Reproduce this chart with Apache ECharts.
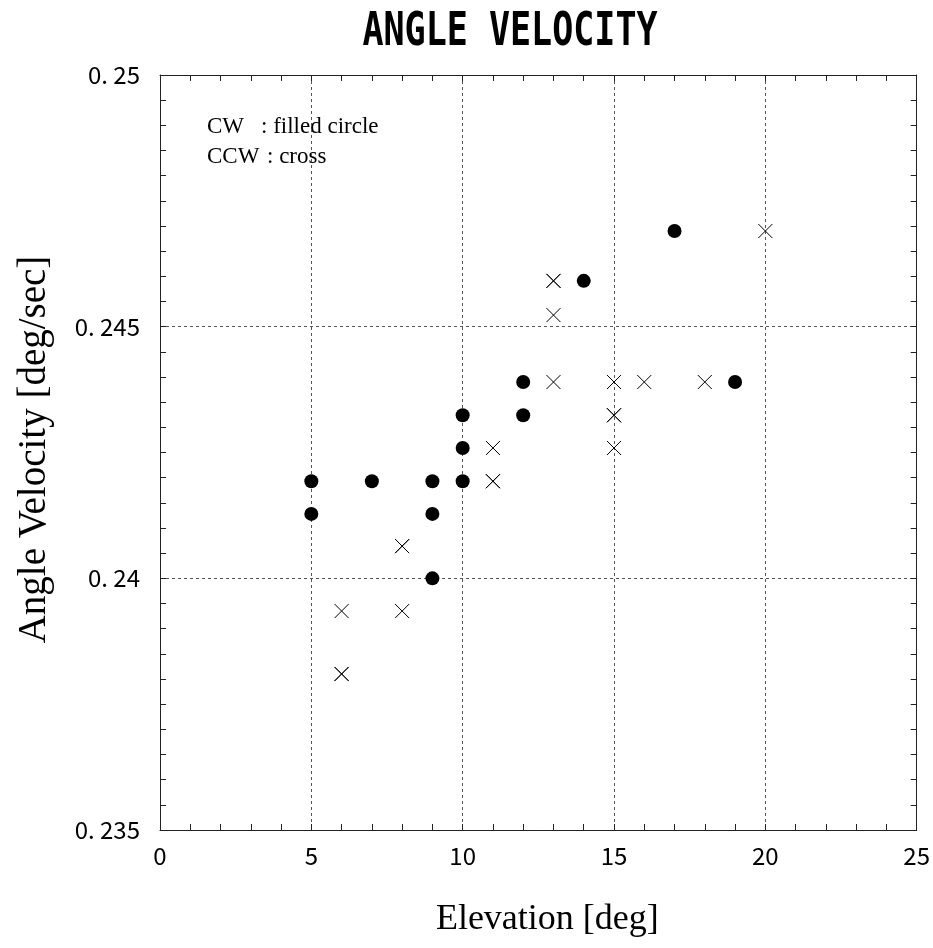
<!DOCTYPE html>
<html>
<head>
<meta charset="utf-8">
<script src="https://cdn.jsdelivr.net/npm/echarts@6/dist/echarts.min.js"></script>
<style>
  html, body { margin: 0; padding: 0; background: #fff; }
  #chart { width: 933px; height: 948px; }
</style>
</head>
<body>
<div id="chart"></div>
<script>
// CW : filled circle
var cwX = [5, 5, 7, 9, 9, 9, 10, 10, 10, 12, 12, 14, 17, 19]
var cwY = [0.24193, 0.24128, 0.24193, 0.24193, 0.24128, 0.24, 0.24324, 0.24259, 0.24193, 0.2439, 0.24324, 0.24591, 0.2469, 0.2439]
// CCW : cross (some points repeat, which is why they print darker)
var ccwX = [6, 6, 6, 8, 8, 8, 11, 11, 11, 13, 13, 13, 13, 15, 15, 15, 15, 16, 18, 20]
var ccwY = [0.23935, 0.2381, 0.2381, 0.24064, 0.24064, 0.23935, 0.24259, 0.24193, 0.24193, 0.24591, 0.24591, 0.24523, 0.2439, 0.2439, 0.24324, 0.24324, 0.24259, 0.2439, 0.2439, 0.2469]

var xTickLabels = ['0', '5', '10', '15', '20', '25']
var yTickLabels = ['0. 235', '0. 24', '0. 245', '0. 25']

function pairs(xs, ys) {
    var out = []
    for (var i = 0; i < xs.length; i++) out.push([xs[i], ys[i]])
    return out
}

var tickFont = '"Noto Sans CJK JP", sans-serif'
var serif = '"Liberation Serif", "Times New Roman", serif'

function frameAxis(extra) {
    var base = {
        type: 'value',
        axisLine: { show: true, onZero: false, lineStyle: { color: '#222', width: 1 } },
        axisTick: { show: true, inside: true, length: 6, lineStyle: { color: '#222' } },
        minorTick: { show: true, length: 6, lineStyle: { color: '#222' } },
        splitLine: { show: false },
        axisLabel: { show: false }
    }
    for (var k in extra) base[k] = extra[k]
    return base
}

var myChart = echarts.init(document.getElementById('chart'))
var option = {
    backgroundColor: '#fff',
    animation: false,
    grid: { left: 160, top: 75, width: 757, height: 755, containLabel: false },
    graphic: [
        {
            type: 'text', x: 510, y: 33, scaleX: 0.745,
            style: { text: 'ANGLE VELOCITY', font: 'bold 47px "DejaVu Sans Mono", monospace', fill: '#000', textAlign: 'center', textVerticalAlign: 'middle' }
        },
        { type: 'text', x: 207, y: 127, style: { text: 'CW', font: '23px ' + serif, fill: '#000', textVerticalAlign: 'middle' } },
        { type: 'text', x: 261, y: 127, style: { text: ': filled circle', font: '23px ' + serif, fill: '#000', textVerticalAlign: 'middle' } },
        { type: 'text', x: 207, y: 157, style: { text: 'CCW', font: '23px ' + serif, fill: '#000', textVerticalAlign: 'middle' } },
        { type: 'text', x: 267, y: 157, style: { text: ': cross', font: '23px ' + serif, fill: '#000', textVerticalAlign: 'middle' } }
    ],
    xAxis: [
        frameAxis({
            position: 'bottom', min: 0, max: 25, interval: 5,
            minorTick: { show: true, splitNumber: 5, length: 6, lineStyle: { color: '#222' } },
            splitLine: { show: true, lineStyle: { color: '#555', type: [3, 3], width: 1 } },
            axisLabel: {
                show: true, margin: 14, color: '#000', fontSize: 24, fontFamily: tickFont,
                formatter: function(v) { return xTickLabels[Math.round(v / 5)] }
            },
            name: 'Elevation [deg]', nameLocation: 'middle', nameGap: 72,
            nameTextStyle: { color: '#000', fontSize: 36, fontFamily: serif, padding: [0, 0, 0, 18] }
        }),
        frameAxis({
            position: 'top', min: 0, max: 25, interval: 5,
            minorTick: { show: true, splitNumber: 5, length: 6, lineStyle: { color: '#222' } }
        })
    ],
    yAxis: [
        frameAxis({
            position: 'left', min: 0.235, max: 0.25, interval: 0.005,
            minorTick: { show: true, splitNumber: 10, length: 6, lineStyle: { color: '#222' } },
            splitLine: { show: true, lineStyle: { color: '#555', type: [3, 3], width: 1 } },
            axisLabel: {
                show: true, margin: 20, color: '#000', fontSize: 24, fontFamily: tickFont,
                formatter: function(v) { return yTickLabels[Math.round((v - 0.235) / 0.005)] }
            },
            name: 'Angle Velocity [deg/sec]', nameLocation: 'middle', nameGap: 106,
            nameTextStyle: { color: '#000', fontSize: 39, fontFamily: serif, padding: [0, 0, 0, 6] }
        }),
        frameAxis({
            position: 'right', min: 0.235, max: 0.25, interval: 0.005,
            minorTick: { show: true, splitNumber: 10, length: 6, lineStyle: { color: '#222' } }
        })
    ],
    series: [
        {
            name: 'CW', type: 'scatter', xAxisIndex: 0, yAxisIndex: 0,
            symbol: 'circle', symbolSize: 14,
            itemStyle: { color: '#000', opacity: 1 },
            data: pairs(cwX, cwY)
        },
        {
            name: 'CCW', type: 'scatter', xAxisIndex: 0, yAxisIndex: 0,
            symbol: 'path://M0,0L10,10M10,0L0,10', symbolSize: 14,
            itemStyle: { color: 'rgba(0,0,0,0)', borderColor: '#000', borderWidth: 1, opacity: 1 },
            data: pairs(ccwX, ccwY)
        }
    ]
}
myChart.setOption(option)
</script>
</body>
</html>
